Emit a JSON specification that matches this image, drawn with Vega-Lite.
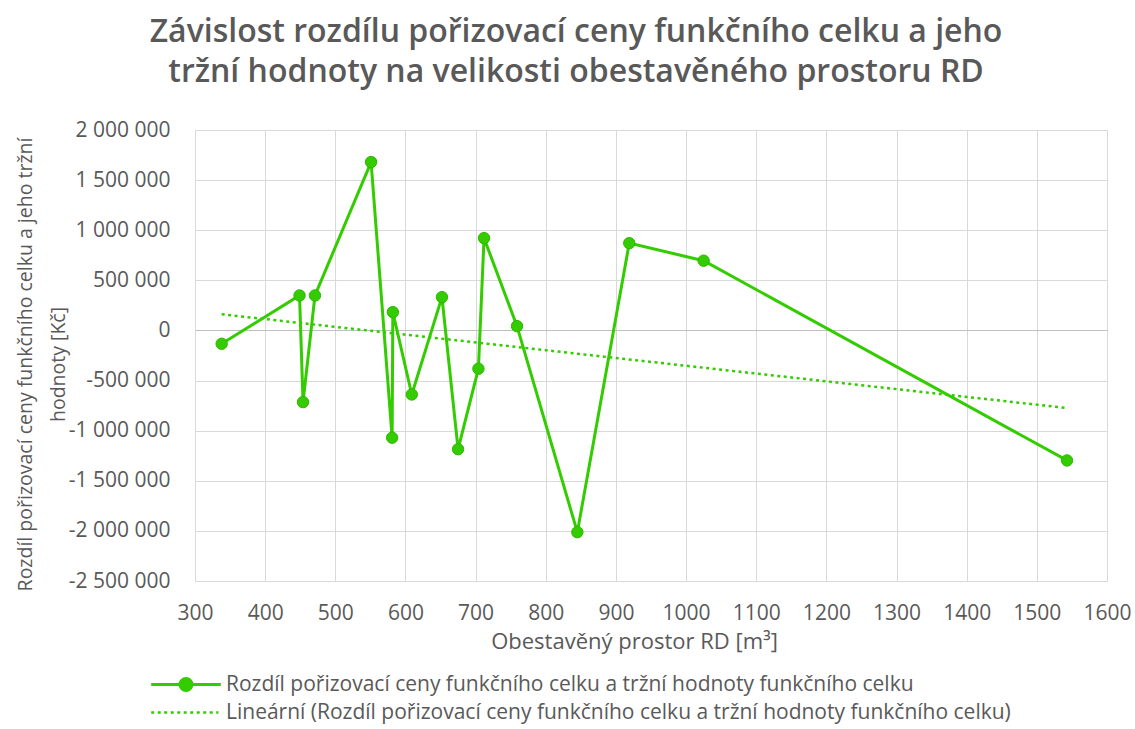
{
  "$schema": "https://vega.github.io/schema/vega-lite/v6.json",
  "width": 912,
  "height": 451,
  "autosize": {"type": "none"},
  "padding": {"left": 195, "top": 130, "right": 28, "bottom": 148},
  "background": "white",
  "title": {
    "text": ["Závislost rozdílu pořizovací ceny funkčního celku a jeho", "tržní hodnoty na velikosti obestavěného prostoru RD"],
    "font": "Open Sans", "fontSize": 32, "fontWeight": 600, "color": "#595959",
    "lineHeight": 40, "offset": 30, "dx": -75, "anchor": "middle", "frame": "group"
  },
  "config": {
    "font": "Open Sans",
    "locale": {"number": {"decimal": ",", "thousands": " ", "grouping": [3], "currency": ["", " Kč"], "minus": "-"}},
    "view": {"stroke": null},
    "axis": {
      "labelColor": "#595959", "titleColor": "#595959", "labelFont": "Open Sans", "titleFont": "Open Sans",
      "labelFontSize": 21, "titleFontSize": 22, "titleFontWeight": "normal",
      "grid": true, "gridColor": "#d9d9d9", "gridWidth": 1, "domain": false, "ticks": false
    }
  },
  "data": {"values": [
    {"n": 1, "prostor": 338, "rozdil": -133000},
    {"n": 2, "prostor": 449, "rozdil": 349000},
    {"n": 3, "prostor": 454, "rozdil": -715000},
    {"n": 4, "prostor": 471, "rozdil": 349000},
    {"n": 5, "prostor": 551, "rozdil": 1680000},
    {"n": 6, "prostor": 581, "rozdil": -1070000},
    {"n": 7, "prostor": 582, "rozdil": 183000},
    {"n": 8, "prostor": 609, "rozdil": -639000},
    {"n": 9, "prostor": 652, "rozdil": 332000},
    {"n": 10, "prostor": 675, "rozdil": -1185000},
    {"n": 11, "prostor": 704, "rozdil": -382000},
    {"n": 12, "prostor": 712, "rozdil": 921000},
    {"n": 13, "prostor": 759, "rozdil": 43000},
    {"n": 14, "prostor": 845, "rozdil": -2013000},
    {"n": 15, "prostor": 919, "rozdil": 871000},
    {"n": 16, "prostor": 1025, "rozdil": 696000},
    {"n": 17, "prostor": 1543, "rozdil": -1297000}
  ]},
  "encoding": {
    "x": {
      "field": "prostor", "type": "quantitative",
      "scale": {"domain": [300, 1600], "nice": false, "zero": false},
      "axis": {
        "values": [300, 400, 500, 600, 700, 800, 900, 1000, 1100, 1200, 1300, 1400, 1500, 1600],
        "format": "d", "labelPadding": 21, "labelFlush": false, "labelOverlap": false,
        "title": "Obestavěný prostor RD [m³]", "titleX": 439, "titleY": 50
      }
    },
    "y": {
      "field": "rozdil", "type": "quantitative",
      "scale": {"domain": [-2500000, 2000000], "nice": false, "zero": false},
      "axis": {
        "values": [-2500000, -2000000, -1500000, -1000000, -500000, 0, 500000, 1000000, 1500000, 2000000],
        "format": ",.0f", "labelPadding": 25, "labelOverlap": false,
        "gridColor": {"condition": {"test": "datum.value === 0", "value": "#bfbfbf"}, "value": "#d9d9d9"},
        "title": ["Rozdíl pořizovací ceny funkčního celku a jeho tržní", "hodnoty [Kč]"],
        "titleX": -160, "titleY": 234, "titleLineHeight": 33, "titleFontSize": 19.5
      }
    }
  },
  "layer": [
    {
      "transform": [{"regression": "rozdil", "on": "prostor"}],
      "mark": {"type": "line", "strokeWidth": 2.5, "color": "#33cc00"},
      "encoding": {
        "strokeDash": {
          "datum": "Lineární (Rozdíl pořizovací ceny funkčního celku a tržní hodnoty funkčního celku)",
          "scale": {"range": [[3, 3.5]]},
          "legend": {
            "orient": "none", "legendX": -19.5, "legendY": 572, "title": null,
            "labelFont": "Open Sans", "labelFontSize": 21, "labelColor": "#595959", "labelLimit": 1000,
            "labelOffset": 29.5, "symbolSize": 144, "padding": 0,
            "symbolType": "M-5.8,0H5.4", "symbolStrokeColor": "#33cc00", "symbolStrokeWidth": 2.5
          }
        }
      }
    },
    {
      "mark": {"type": "line", "strokeWidth": 3},
      "encoding": {
        "order": {"field": "n", "type": "quantitative"},
        "color": {
          "datum": "Rozdíl pořizovací ceny funkčního celku a tržní hodnoty funkčního celku",
          "scale": {"range": ["#33cc00"]},
          "legend": {
            "orient": "none", "legendX": -19.5, "legendY": 544, "title": null,
            "labelFont": "Open Sans", "labelFontSize": 21, "labelColor": "#595959", "labelLimit": 1000,
            "labelOffset": 29.5, "symbolSize": 144, "padding": 0,
            "symbolType": "M-5.8,0H5.8M1,0A1,1,0,1,1,-1,0A1,1,0,1,1,1,0Z",
            "symbolFillColor": "#33cc00", "symbolStrokeColor": "#33cc00", "symbolStrokeWidth": 3
          }
        }
      }
    },
    {
      "mark": {"type": "point", "filled": true, "size": 130, "stroke": "#2eb800", "strokeWidth": 1, "opacity": 1},
      "encoding": {
        "color": {"datum": "Rozdíl pořizovací ceny funkčního celku a tržní hodnoty funkčního celku"}
      }
    }
  ]
}
